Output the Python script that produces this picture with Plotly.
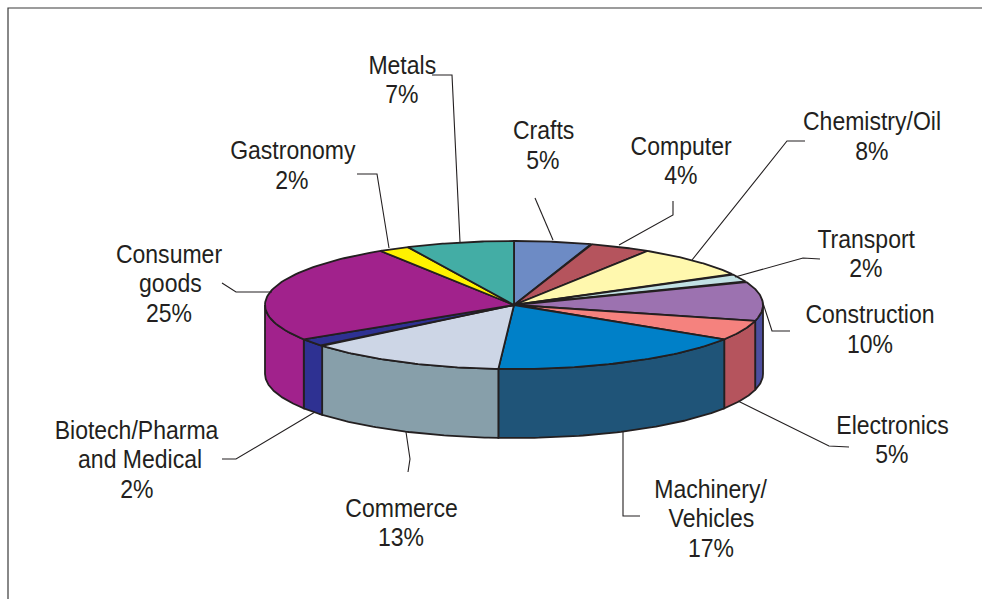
import numpy as np
import plotly.graph_objects as go

# Survey shares by sector, clockwise from twelve o'clock
sectors = ["Crafts", "Computer", "Chemistry/Oil", "Transport", "Construction", "Electronics",
           "Machinery/Vehicles", "Commerce", "Biotech/Pharma and Medical", "Consumer goods",
           "Gastronomy", "Metals"]
shares = [5, 4, 8, 2, 10, 5, 17, 13, 2, 25, 2, 7]
top_colors = ["#6d8bc5", "#b5545d", "#fff8ae", "#c1e1e4", "#9c72b0", "#f5827e",
              "#0080c8", "#cdd6e6", "#2e3192", "#a1228c", "#fff200", "#43ada5"]
side_colors = ["#6d8bc5", "#b5545d", "#fff8ae", "#c1e1e4", "#4f4f9f", "#b5545d",
               "#1f5478", "#879faa", "#2e3192", "#a1228c", "#fff200", "#43ada5"]

# Pie geometry on a pixel-scaled canvas
CX, CY, RX, RY, DEPTH = 514, 305, 249, 64, 69
INK = "#231f20"

# Label text lines: (text, centre x, centre y)
label_lines = [
    ("Metals", 402, 65), ("7%", 402, 94),
    ("Crafts", 543, 130), ("5%", 543, 160),
    ("Computer", 681, 146), ("4%", 681, 175),
    ("Chemistry/Oil", 872, 121), ("8%", 872, 151),
    ("Transport", 866, 239), ("2%", 866, 268),
    ("Construction", 870, 314), ("10%", 870, 344),
    ("Electronics", 892, 425), ("5%", 892, 454),
    ("Machinery/", 711, 489), ("Vehicles", 711, 518), ("17%", 711, 548),
    ("Commerce", 401, 508), ("13%", 401, 537),
    ("Biotech/Pharma", 137, 430), ("and Medical", 140, 459), ("2%", 137, 489),
    ("Consumer", 169, 254), ("goods", 170, 283), ("25%", 169, 313),
    ("Gastronomy", 293, 150), ("2%", 292, 180),
]

# Leader lines from labels to slices
leaders = [
    ([432, 452, 460], [75, 75, 242]),
    ([535, 553], [198, 240]),
    ([673, 673, 619], [201, 215, 245]),
    ([805, 787, 692], [141, 141, 260]),
    ([820, 803, 735], [259, 258, 277]),
    ([790, 772, 762], [331, 331, 300]),
    ([849, 829, 738], [447, 446, 401]),
    ([640, 623, 623], [516, 516, 431]),
    ([406, 410, 408], [432, 459, 472]),
    ([222, 236, 315], [459, 459, 412]),
    ([222, 236, 272], [283, 292, 292]),
    ([357, 377, 389], [174, 174, 248]),
]


def rim(deg, drop=0):
    t = np.radians(deg)
    return CX + RX * np.sin(t), CY - RY * np.cos(t) + drop


fig = go.Figure()


def polygon(xs, ys, color):
    fig.add_trace(go.Scatter(x=xs, y=ys, mode="lines", fill="toself", fillcolor=color,
                             line=dict(color=INK, width=1.8), hoverinfo="skip", showlegend=False))


bounds = np.cumsum([0] + shares) * 3.6

# Side wall: only the front half of the rim faces the viewer
for a, b, color in zip(bounds[:-1], bounds[1:], side_colors):
    lo, hi = max(a, 90), min(b, 270)
    if lo < hi:
        arc = np.linspace(lo, hi, 60)
        xt, yt = rim(arc)
        xb, yb = rim(arc[::-1], DEPTH)
        polygon(np.r_[xt, xb, xt[0]], np.r_[yt, yb, yt[0]], color)

# Top face wedges
for a, b, color in zip(bounds[:-1], bounds[1:], top_colors):
    xa, ya = rim(np.linspace(a, b, 60))
    polygon(np.r_[CX, xa, CX], np.r_[CY, ya, CY], color)

for xs, ys in leaders:
    fig.add_trace(go.Scatter(x=xs, y=ys, mode="lines", line=dict(color=INK, width=1.1),
                             hoverinfo="skip", showlegend=False))

for text, x, y in label_lines:
    fig.add_annotation(x=x, y=y, text=text, showarrow=False, xanchor="center", yanchor="middle",
                       font=dict(family="Liberation Sans", size=26, color=INK))

# Frame along the top and left edges
fig.add_trace(go.Scatter(x=[982, 8, 8], y=[8, 8, 599], mode="lines",
                         line=dict(color="#3a3a3a", width=1.2), hoverinfo="skip", showlegend=False))

axis = dict(visible=False, fixedrange=True)
fig.update_layout(width=982, height=599, margin=dict(l=0, r=0, t=0, b=0),
                  paper_bgcolor="white", plot_bgcolor="white",
                  xaxis=dict(range=[0, 982], **axis), yaxis=dict(range=[599, 0], **axis))

# Labels are set in a condensed cut: narrow each one about its own centre
condense = """
document.querySelectorAll('.annotation-text').forEach(function (el) {
  var b = el.getBBox(), c = b.x + b.width / 2;
  el.setAttribute('transform', 'translate(' + c + ',0) scale(0.885,1) translate(' + (-c) + ',0)');
});
"""
fig.write_html("out.html", config=dict(displayModeBar=False), post_script=condense)
